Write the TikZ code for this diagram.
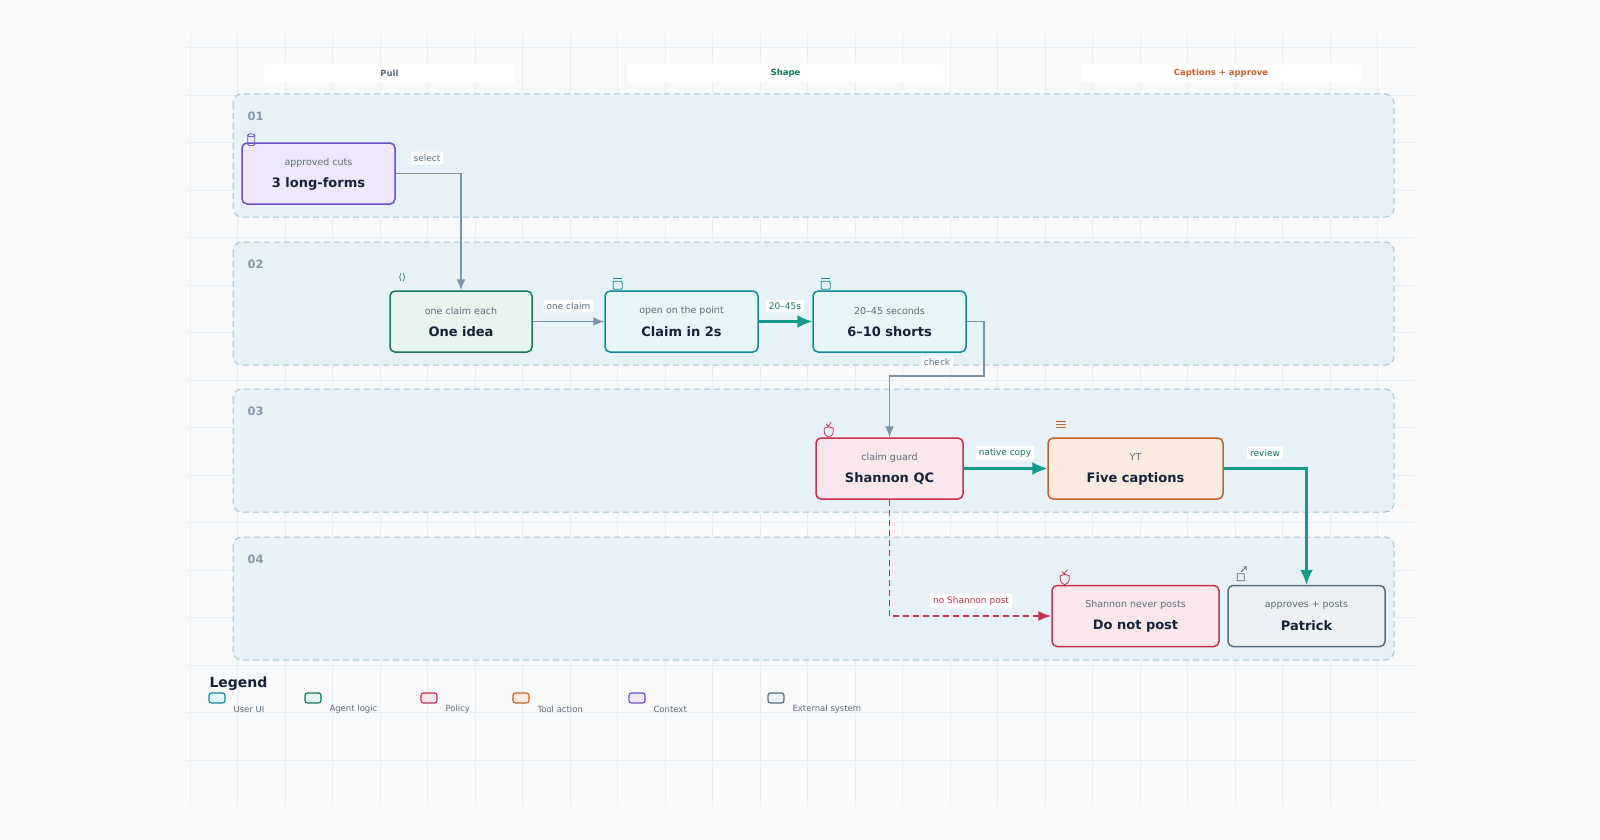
\documentclass[tikz,border=0pt]{standalone}
\usepackage{fontspec}
\setmainfont{DejaVu Sans}
\usetikzlibrary{arrows.meta, positioning}
\definecolor{bgpaper}{HTML}{F7F9FB}
\definecolor{gridline}{HTML}{E8EEF3}
\definecolor{lanefill}{HTML}{E6F2F8}
\definecolor{laneedge}{HTML}{A9C6D6}
\definecolor{lanetext}{HTML}{8299AA}
\definecolor{inkdark}{HTML}{15233A}
\definecolor{inksoft}{HTML}{5E6E7E}
\definecolor{uidraw}{HTML}{13899C}\definecolor{uifill}{HTML}{E6F6F9}
\definecolor{agdraw}{HTML}{137A5E}\definecolor{agfill}{HTML}{E6F5EE}
\definecolor{podraw}{HTML}{C8324F}\definecolor{pofill}{HTML}{F9E7EB}
\definecolor{tldraw}{HTML}{C8622A}\definecolor{tlfill}{HTML}{FAEBE0}
\definecolor{cxdraw}{HTML}{6D4FC8}\definecolor{cxfill}{HTML}{EFE8FA}
\definecolor{exdraw}{HTML}{5A6E80}\definecolor{exfill}{HTML}{EEF1F3}
\definecolor{flowgray}{HTML}{7A95A8}
\definecolor{flowteal}{HTML}{12998A}

\tikzset{
  stagebox/.style={rectangle, rounded corners=5pt, line width=1.5pt, minimum width=#1, minimum height=61pt},
  boxtitle/.style={font=\bfseries\fontsize{13}{15}\selectfont, text=inkdark},
  boxsub/.style={font=\fontsize{9.5}{11}\selectfont, text=inksoft},
  flowtag/.style={fill=white, rounded corners=2pt, inner sep=3pt, font=\fontsize{9}{10}\selectfont},
  flowline/.style={line width=1.6pt, rounded corners=0pt}
}

\begin{document}
\begin{tikzpicture}[x=1pt, y=-1pt]
\useasboundingbox (0,0) rectangle (1600,840);
\fill[bgpaper] (0,0) rectangle (1600,840);
\draw[gridline, line width=0.6pt] (186,33) grid[step=47.5pt] (1414,806);

% column headers
\node[fill=white, rounded corners=3pt, minimum width=251pt, minimum height=19pt, font=\bfseries\fontsize{8.5}{10}\selectfont, text=inksoft] (colpull) at (389.5,73.5) {Pull};
\node[fill=white, rounded corners=3pt, minimum width=317pt, minimum height=19pt, font=\bfseries\fontsize{8.5}{10}\selectfont, text=agdraw] (colshape) at (785.5,73.5) {Shape};
\node[fill=white, rounded corners=3pt, minimum width=280pt, minimum height=19pt, font=\bfseries\fontsize{8.5}{10}\selectfont, text=tldraw] (colcap) at (1221,73.5) {Captions + approve};

% lanes
\foreach \ytop/\lbl in {94/01 / Long-form, 242/02 / Shorts cut, 389/03 / Native captions, 537/04 / Patrick} {
  \draw[laneedge, fill=lanefill, dashed, dash pattern=on 6pt off 4pt, line width=1pt, rounded corners=9pt] (233,\ytop) rectangle (1394,\ytop+123);
  \node[anchor=west, font=\bfseries\fontsize{11.5}{13}\selectfont, text=lanetext] at (244,\ytop+22) {\lbl};
}

% nodes
\node[stagebox=153pt, draw=cxdraw, fill=cxfill] (longforms) at (318.5,173.5) {};
\node[stagebox=142pt, draw=agdraw, fill=agfill] (oneidea) at (461,321.5) {};
\node[stagebox=153pt, draw=uidraw, fill=uifill] (claim) at (681.5,321.5) {};
\node[stagebox=153pt, draw=uidraw, fill=uifill] (shorts) at (889.5,321.5) {};
\node[stagebox=147pt, draw=podraw, fill=pofill] (shannon) at (889.5,468.5) {};
\node[stagebox=175pt, draw=tldraw, fill=tlfill] (five) at (1135.5,468.5) {};
\node[stagebox=167pt, draw=podraw, fill=pofill] (donot) at (1135.5,616) {};
\node[stagebox=157pt, draw=exdraw, fill=exfill] (patrick) at (1306.5,616) {};

\foreach \nd/\ttl/\sub in {longforms/3 long-forms/approved cuts, oneidea/One idea/one claim each, claim/Claim in 2s/open on the point, shorts/6–10 shorts/20–45 seconds, shannon/Shannon QC/claim guard, five/Five captions/YT / LI / X / IG / FB, donot/Do not post/Shannon never posts, patrick/Patrick/approves + posts} {
  \node[boxtitle] at ([yshift=-10pt]\nd.center) {\ttl};
  \node[boxsub] at ([yshift=11pt]\nd.center) {\sub};
}

% small icons
\draw[cxdraw, line width=0.8pt] ([xshift=10pt,yshift=7pt]longforms.north west) ellipse (3.5pt and 1.5pt)
  ([xshift=6.5pt,yshift=7pt]longforms.north west) -- ++(0,9) arc[start angle=180,end angle=360,x radius=3.5pt,y radius=1.5pt] -- ++(0,-9);
\node[text=agdraw, font=\fontsize{9}{9}\selectfont, inner sep=0] at ([xshift=13pt,yshift=13pt]oneidea.north west) {⟨⟩};
\foreach \nd in {claim, shorts} {
  \draw[uidraw, line width=0.8pt, rounded corners=1pt] ([xshift=9pt,yshift=9pt]\nd.north west) rectangle ++(9,8);
  \draw[uidraw, line width=0.8pt] ([xshift=9pt,yshift=12pt]\nd.north west) -- ++(9,0);
}
\foreach \nd in {shannon, donot}
  \draw[podraw, line width=0.8pt] ([xshift=9pt,yshift=9pt]\nd.north west) -- ++(4.5,-1.5) -- ++(4.5,1.5) -- ++(0,3) .. controls ++(0,4) and ++(2,-1) .. ++(-4.5,6) .. controls ++(-2,-1) and ++(0,4) .. ++(-4.5,-6) -- cycle
  ([xshift=11pt,yshift=13pt]\nd.north west) -- ++(2,2) -- ++(3,-4);
\foreach \dy in {10,13,16}
  \draw[tldraw, line width=0.8pt] ([xshift=9pt,yshift=\dy pt]five.north west) -- ++(10,0);
\draw[exdraw, line width=0.8pt] ([xshift=10pt,yshift=11pt]patrick.north west) rectangle ++(7,7)
  ([xshift=14pt,yshift=13pt]patrick.north west) -- ++(5,-5) ++(-3,0) -- ++(3,0) -- ++(0,3);

% connectors
\draw[flowline, flowgray, -{Latex[length=11pt,width=9pt]}] (longforms.east) -| (oneidea.north);
\node[flowtag, text=inksoft] (tselect) at (427,158) {select};
\draw[flowline, flowgray, -{Latex[length=11pt,width=9pt]}] (oneidea.east) -- (claim.west);
\node[flowtag, text=inksoft] (toneclaim) at (568.5,306) {one claim};
\draw[flowline, flowteal, line width=2.2pt, -{Latex[length=15pt,width=13pt]}] (claim.east) -- (shorts.west);
\node[flowtag, text=agdraw] (trange) at (785,306) {20–45s};
\coordinate (chkturn) at (984,376);
\draw[flowline, flowgray, -{Latex[length=11pt,width=9pt]}] (shorts.east) -| (chkturn) -| (shannon.north);
\node[flowtag, text=inksoft] (tcheck) at (937,362) {check};
\draw[flowline, flowteal, line width=2.2pt, -{Latex[length=15pt,width=13pt]}] (shannon.east) -- (five.west);
\node[flowtag, text=agdraw] (tnative) at (1005,453) {native copy};
\draw[flowline, flowteal, line width=2.2pt, -{Latex[length=15pt,width=13pt]}] (five.east) -| (patrick.north);
\node[flowtag, text=agdraw] (treview) at (1265,453) {review};
\draw[flowline, podraw, dashed, dash pattern=on 6pt off 4pt, -{Latex[length=13pt,width=10pt]}] (shannon.south) |- (donot.west);
\node[flowtag, text=podraw] (tnopost) at (971,601) {no Shannon post};

% legend
\node[anchor=west, font=\bfseries\fontsize{14}{16}\selectfont, text=inkdark] (legend) at (206,684) {Legend};
\foreach \lx/\cd/\lt in {209/ui/User UI, 305/ag/Agent logic, 421/po/Policy, 513/tl/Tool action, 629/cx/Context / trace, 768/ex/External system} {
  \draw[draw=\cd draw, fill=\cd fill, line width=1.2pt, rounded corners=2.5pt] (\lx,703) rectangle ++(16,-10);
  \node[anchor=west, font=\fontsize{8.5}{10}\selectfont, text=inksoft] at (\lx+21,709) {\lt};
}
\end{tikzpicture}
\end{document}
